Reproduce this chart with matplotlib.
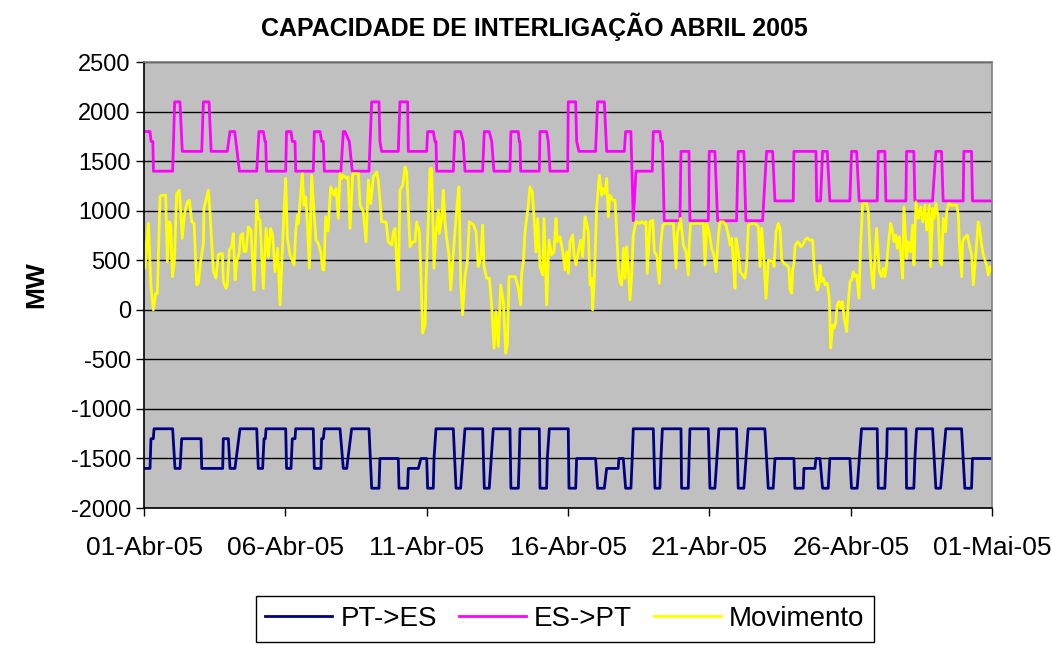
import matplotlib
matplotlib.use('Agg')
import matplotlib.pyplot as plt

plt.rcParams['font.family'] = ['Liberation Sans', 'DejaVu Sans']
plt.rcParams['axes.unicode_minus'] = False

# hours since 01-Abr-05 00:00
tick_hours = [0, 120, 240, 360, 480, 600, 720]
tick_labels = ['01-Abr-05', '06-Abr-05', '11-Abr-05', '16-Abr-05',
               '21-Abr-05', '26-Abr-05', '01-Mai-05']

# PT->ES capacity (MW), vertices of the stepped line
pt_es_h = [0, 5.1, 5.9, 7.9, 8.5, 24.3, 26.3, 30.6, 32, 48.4, 49, 66.8, 67.3, 71.6, 73, 77.2,
           81.5, 95.7, 97, 100.7, 101.9, 103, 103.6, 120.3, 121, 124.8, 125.9, 128.2, 128.8,
           143.7, 144.6, 150.2, 150.8, 152.2, 153.1, 166.4, 169.2, 172.1, 176.3, 191, 193.3,
           199.5, 200.3, 215.9, 216.5, 223.8, 224.4, 232.9, 235.1, 240, 240.8, 245.6, 246.2,
           247.9, 262.6, 264.9, 268.8, 272.5, 287.5, 288.9, 293.1, 296.5, 310.7, 311.5, 317.8,
           318.6, 319.2, 335.6, 336.2, 341.8, 342.4, 344.1, 360.2, 360.8, 366.5, 367.3, 383.4,
           385.1, 390.8, 392.8, 402.6, 403.2, 406.9, 408.9, 413.4, 414.5, 415.4, 432.4, 433.8,
           438, 438.9, 440.1, 455.9, 456.4, 462.1, 463.5, 479.1, 480.5, 484.7, 488.1, 503.1,
           504.5, 509.3, 512.9, 527.1, 530, 534.2, 535.7, 551.8, 552.6, 559.7, 560.3, 569.6,
           570.5, 573.9, 576.1, 580.9, 582.3, 599.3, 600.7, 605.5, 609.2, 622.5, 623.4, 629,
           629.9, 630.5, 631, 646.9, 647.4, 653.6, 654.5, 655.9, 669.5, 672.3, 676.3, 680.8,
           694.1, 696.9, 702.6, 703.4, 720]
pt_es_v = [-1600, -1600, -1300, -1300, -1200, -1200, -1600, -1600, -1300, -1300, -1600, -1600,
           -1300, -1300, -1600, -1600, -1200, -1200, -1600, -1600, -1300, -1300, -1200, -1200,
           -1600, -1600, -1300, -1300, -1200, -1200, -1600, -1600, -1300, -1300, -1200, -1200,
           -1600, -1600, -1200, -1200, -1800, -1800, -1500, -1500, -1800, -1800, -1600, -1600,
           -1500, -1500, -1800, -1800, -1500, -1200, -1200, -1800, -1800, -1200, -1200, -1800,
           -1800, -1200, -1200, -1800, -1800, -1500, -1200, -1200, -1800, -1800, -1500, -1200,
           -1200, -1800, -1800, -1500, -1500, -1800, -1800, -1600, -1600, -1500, -1500, -1800,
           -1800, -1500, -1200, -1200, -1800, -1800, -1500, -1200, -1200, -1800, -1800, -1200,
           -1200, -1800, -1800, -1200, -1200, -1800, -1800, -1200, -1200, -1800, -1800, -1500,
           -1500, -1800, -1800, -1600, -1600, -1500, -1500, -1800, -1800, -1500, -1500, -1800,
           -1800, -1200, -1200, -1800, -1800, -1500, -1500, -1200, -1200, -1800, -1800, -1500,
           -1200, -1200, -1800, -1800, -1200, -1200, -1800, -1800, -1500, -1500]

# ES->PT capacity (MW)
es_pt_h = [0, 5, 6, 7.5, 8, 24.3, 26, 30.5, 32.5, 49, 50.4, 55.2, 57, 70.7, 73, 77, 81, 95.7,
           97.6, 101.3, 102.7, 103.3, 104, 120.3, 121, 124.8, 125.9, 128.2, 128.8, 143.7, 144.6,
           149.4, 150.8, 152.2, 153.1, 167.2, 169.2, 170.6, 174.3, 176.8, 191, 193.3, 199.5,
           200.3, 201.8, 215.9, 217.3, 223.8, 224.4, 240, 240.8, 245.6, 247, 247.9, 248.5,
           262.6, 264, 268.8, 271, 272.5, 287.5, 288.9, 293.1, 295.2, 297.1, 310.7, 311.5,
           317.8, 318.6, 319.2, 319.8, 335.6, 336.2, 341.8, 343.2, 344.7, 359.7, 360.2, 366.5,
           367.3, 369.3, 383.4, 385.1, 390.8, 392.8, 407.8, 408.9, 413.4, 415.4, 417.7, 431.5,
           432.4, 438, 438.9, 440.1, 441.7, 455, 455.9, 462.7, 463.5, 479.1, 479.9, 484.7, 487,
           503.1, 504.5, 509.3, 511, 525.2, 528.6, 533.7, 535.7, 551.2, 551.8, 570.5, 571.1,
           574.4, 576.1, 580.1, 582.3, 599.3, 600.7, 605, 607.2, 622.5, 623.4, 629, 629.9,
           646.9, 647.4, 653.6, 654.5, 669.5, 672.3, 677.1, 678.5, 695.5, 696.1, 702.6, 703.4,
           720]
es_pt_v = [1800, 1800, 1700, 1700, 1400, 1400, 2100, 2100, 1600, 1600, 2100, 2100, 1600, 1600,
           1800, 1800, 1400, 1400, 1800, 1800, 1700, 1700, 1400, 1400, 1800, 1800, 1700, 1700,
           1400, 1400, 1800, 1800, 1700, 1700, 1400, 1400, 1800, 1800, 1700, 1400, 1400, 2100,
           2100, 1700, 1600, 1600, 2100, 2100, 1600, 1600, 1800, 1800, 1700, 1700, 1400, 1400,
           1800, 1800, 1700, 1400, 1400, 1800, 1800, 1700, 1400, 1400, 1800, 1800, 1700, 1700,
           1400, 1400, 1800, 1800, 1700, 1400, 1400, 2100, 2100, 1700, 1600, 1600, 2100, 2100,
           1600, 1600, 1800, 1800, 900, 1400, 1400, 1800, 1800, 1700, 1700, 900, 900, 1600,
           1600, 900, 900, 1600, 1600, 900, 900, 1600, 1600, 900, 900, 1600, 1600, 1100, 1100,
           1600, 1600, 1100, 1100, 1600, 1600, 1100, 1100, 1600, 1600, 1100, 1100, 1600, 1600,
           1100, 1100, 1600, 1600, 1100, 1100, 1600, 1600, 1100, 1100, 1600, 1600, 1100, 1100]

# Movimento (MW)
mov_h = [0, 0.85, 3.7, 5.9, 7.9, 9.9, 11.3, 13.6, 15.0, 18.4, 19.8, 21.5, 22.6, 24.1, 25.8,
         27.7, 30.0, 32.5, 34.2, 36.8, 38.5, 40.5, 42.5, 44.7, 46.1, 48.1, 50.4, 50.9, 54.6,
         56.0, 58.9, 61.1, 63.1, 66.5, 67.4, 69.6, 70.7, 72.4, 74.4, 75.8, 77.3, 78.7, 80.7,
         82.1, 83.8, 84.9, 86.6, 88.6, 90.8, 93.4, 95.7, 97.1, 98.5, 101.3, 103.6, 105.6,
         107.5, 109.2, 111.2, 113.5, 115.5, 117.4, 118.9, 120.3, 121.7, 124.0, 127.4, 128.8,
         130.2, 131.0, 134.4, 135.8, 137.3, 138.7, 140.4, 142.3, 144.3, 146.0, 148.0, 150.0,
         151.7, 152.8, 154.2, 156.2, 158.5, 160.2, 161.3, 163.0, 165.0, 166.4, 167.8, 169.2,
         172.1, 173.2,
         174.9, 177.2, 182.0, 183.4, 186.2, 188.5, 190.5, 192.4, 194.7, 197.5, 198.9, 200.4,
         201.8, 203.2, 205.5, 207.4, 210.3, 211.7, 213.1, 214.5, 215.9, 217.3, 219.6, 221.6,
         223.0, 224.4, 225.8, 228.1, 230.1, 231.5, 233.8, 235.2, 236.6, 238.6, 239.4, 241.4,
         242.8, 244.2, 246.2, 247.9, 249.9, 250.7, 252.7, 254.1, 255.5, 257.0, 258.9, 260.4,
         262.1, 264.0, 266.0, 267.4, 268.9, 270.5, 272.5, 274.5, 276.2, 279.6, 281.9, 283.8,
         285.8, 287.5, 288.7, 290.9, 293.2, 295.2, 297.2, 298.8, 300.8, 302.8, 305.1, 307.1,
         308.5, 309.9, 312.2, 315.0, 316.4, 317.8, 319.8, 320.6, 322.1, 323.5, 326.3, 327.7,
         329.7, 331.4, 332.8, 334.2, 336.2, 338.5, 339.6, 341.9, 343.8, 346.1, 348.1, 349.8,
         350.9, 353.2, 355.5, 357.4,
         358.8, 360.3, 361.7, 363.9, 365.1, 366.8, 368.7, 370.7, 372.4, 374.4, 375.8, 377.2,
         378.7, 380.1, 380.9, 382.3, 384.3, 386.6, 388.6, 390.0, 391.4, 392.8, 394.2, 395.6,
         397.9, 399.9, 401.3, 402.7, 404.1, 405.5, 407.0, 408.4, 409.8, 411.2, 412.6, 414.0,
         415.4, 417.7, 421.1, 422.5, 424.5, 426.2, 427.3, 429.6, 431.9, 433.3, 435.3, 437.5,
         438.7, 440.4, 443.2, 449.4, 451.7, 452.8, 454.5, 455.6, 457.9, 460.2, 462.1, 463.0,
         464.1, 474.9, 476.3, 477.7, 479.7, 481.9, 483.9, 485.6, 487.6, 489.0, 491.8, 494.1,
         496.1, 497.5, 498.9, 500.3, 501.8, 502.6, 504.6, 506.0, 508.3, 510.2, 511.7, 513.1,
         515.9, 518.7, 521.6, 523.0, 524.4, 526.4, 528.1, 530.1, 534.3,
         534.9, 536.6, 538.5, 540.0, 541.4, 543.4, 545.6, 547.6, 548.5, 549.9, 550.7, 551.9,
         552.7, 554.7, 556.4, 557.5, 559.2, 561.2, 563.2, 564.9, 567.7, 569.1, 570.5, 571.7,
         573.1, 573.9, 575.3, 576.8, 578.2, 580.1, 581.8, 583.0, 584.7, 585.8, 587.2, 588.6,
         590.1, 591.5, 592.9, 594.3, 596.6, 598.0, 599.4, 600.8, 602.2, 603.6, 605.1, 607.0,
         608.5, 610.2, 613.5, 615.0, 616.4, 617.8, 619.2, 620.6, 622.0, 623.4, 624.3, 626.3,
         627.7, 629.1, 630.5, 631.9, 633.9, 635.6, 636.8, 638.4, 639.6, 641.3, 642.4, 644.1,
         645.2, 647.5, 648.9, 650.9, 652.6, 653.7, 655.4, 657.4, 659.4, 661.1, 663.1, 664.5,
         666.7, 667.9, 669.6, 670.7, 672.4, 674.4, 675.8, 677.2, 678.6, 680.6, 681.5, 683.4,
         685.7, 687.7, 690.0, 691.4, 692.2, 694.2, 695.0, 697.0, 699.0, 700.7, 702.7, 704.1,
         706.4, 708.3, 709.2, 711.2, 712.6, 714.0, 715.4, 716.8, 718.3, 720]
mov_v = [688, 420, 873, 235, 0, 168, 168, 1141, 1158, 1158, 487, 889, 856, 336, 487, 1175,
         1208, 722, 956, 1091, 1107, 889, 873, 252, 268, 487, 671, 1024, 1208, 990, 386, 319,
         560, 571, 285, 218, 252, 604, 638, 772, 302, 487, 571, 755, 772, 587, 587, 839, 805,
         201, 1107, 923, 906, 218, 822, 537, 822, 755, 386, 621, 50, 587, 1007, 1326, 722, 554,
         453, 789, 956, 873, 1376, 1057, 1141, 873, 420, 1359, 990, 705, 671, 587, 403, 403,
         940, 795, 1242, 1191, 1158, 1225, 923, 1376, 1326, 1359, 1326, 1342,
         822, 1376, 1376, 1057, 990, 688, 1309, 1074, 1342, 1393, 1309, 1091, 889, 889, 889,
         688, 654, 789, 822, 487, 201, 1208, 1258, 1443, 1393, 1024, 638, 688, 688, 889, 789,
         319, -235, -151, 268, 923, 1426, 1426, 420, 789, 1007, 772, 923, 1208, 889, 722, 554,
         201, 487, 789, 1091, 1242, 285, -50, 336, 487, 889, 862, 789, 436, 520, 856, 436, 319,
         319, 34, -386, -17, -369, 252, 84, -436, -352, 336, 336, 336, 285, 218, 50, 369, 487,
         789, 1057, 1242, 1191, 889, 587, 923, 436, 352, 923, 50, 705, 554, 587, 923, 688,
         738, 587, 403,
         587, 369, 688, 755, 554, 453, 587, 705, 537, 940, 873, 789, 252, 319, 0, 319, 1024,
         1359, 1158, 1225, 1175, 1326, 940, 1158, 1107, 1107, 789, 420, 285, 252, 621, 319,
         638, 420, 101, 336, 755, 889, 873, 889, 873, 889, 369, 889, 906, 587, 554, 268, 654,
         856, 873, 873, 420, 772, 856, 923, 654, 587, 352, 688, 873, 873, 453, 873, 789, 621,
         554, 386, 738, 889, 889, 856, 755, 654, 722, 487, 218, 722, 587, 386, 352, 319, 453,
         856, 873, 873, 839, 436, 822, 487, 117, 503, 487,
         436, 789, 873, 822, 503, 470, 453, 420, 201, 168, 403, 470, 638, 688, 671, 638, 654,
         705, 728, 705, 705, 420, 268, 201, 252, 453, 285, 319, 252, 268, 117, -386, -151,
         -185, -134, 50, 84, 17, 84, -67, -218, 84, 285, 302, 386, 336, 352, 117, 688, 1074,
         1074, 990, 587, 352, 218, 520, 822, 554, 386, 336, 420, 336, 453, 654, 873, 789, 688,
         755, 621, 738, 587, 319, 1040, 520, 688, 587, 856, 453, 1091, 923, 1040, 889, 1057,
         805, 1057, 436, 1024, 923, 1074, 923, 487, 453, 923, 789, 990, 1074, 1057, 1057,
         1057, 956, 688, 336, 688, 738, 755, 654, 554, 252, 587, 889, 839, 654, 554, 503, 453,
         352, 436, 380]

fig = plt.figure(figsize=(10.52, 6.48), dpi=100)
ax = fig.add_axes([0.1369, 0.216, 0.8061, 0.688])
ax.set_facecolor('#C0C0C0')

ax.plot(pt_es_h, pt_es_v, color='#000080', lw=2.0, label='PT->ES')
ax.plot(es_pt_h, es_pt_v, color='#FF00FF', lw=2.0, label='ES->PT')
ax.plot(mov_h, mov_v, color='#FFFF00', lw=2.0, label='Movimento')

ax.set_xlim(0, 720)
ax.set_ylim(-2000, 2500)
ax.set_yticks(range(-2000, 2501, 500))
ax.set_xticks(tick_hours)
ax.set_xticklabels(tick_labels)
ax.yaxis.grid(True, color='black', lw=1)
ax.set_axisbelow(True)
ax.tick_params(labelsize=17, length=6, width=1, direction='out')
ax.tick_params(axis='x', labelsize=19, pad=14)

for side in ['top', 'right']:
    ax.spines[side].set_color('#808080')
for side in ['left', 'bottom']:
    ax.spines[side].set_color('black')
for s in ax.spines.values():
    s.set_linewidth(1.2)

ax.set_ylabel('MW', fontsize=19, fontweight='bold', labelpad=16)
fig.text(0.508, 0.958, 'CAPACIDADE DE INTERLIGAÇÃO ABRIL 2005', ha='center', va='center',
         fontsize=18, fontweight='bold')

leg = fig.legend(loc='upper center', bbox_to_anchor=(0.537, 0.080), ncol=3, fontsize=20,
                 frameon=True, fancybox=False, edgecolor='black', framealpha=1,
                 handlelength=2.4, handletextpad=0.3, columnspacing=0.8, borderpad=0.35,
                 borderaxespad=0)
leg.get_frame().set_linewidth(1.0)

plt.savefig('out.png', dpi=100)
